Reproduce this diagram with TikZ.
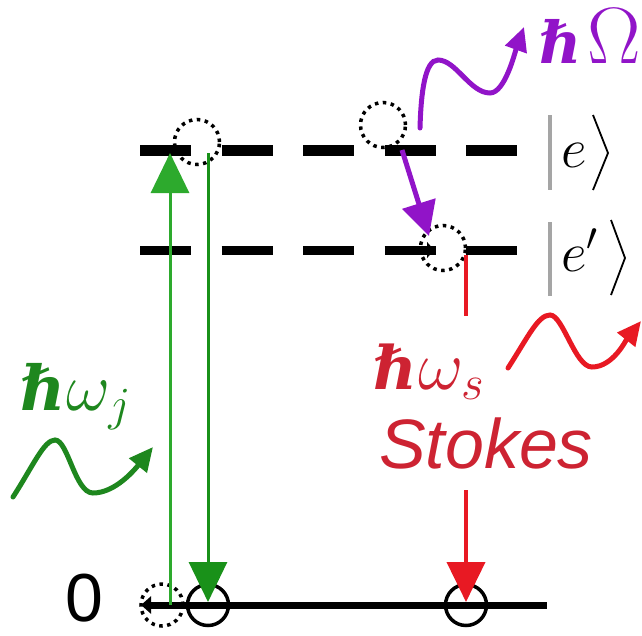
\RequirePackage{fix-cm}
\documentclass[tikz,border=0pt]{standalone}
\usepackage{fontspec}
\setmainfont{Liberation Sans}
\newfontfamily\hbfont{DejaVu Serif}
\usetikzlibrary{arrows.meta}
\definecolor{gA}{RGB}{45,170,45}
\definecolor{gB}{RGB}{25,145,25}
\definecolor{gT}{RGB}{30,135,30}
\definecolor{rA}{RGB}{232,25,35}
\definecolor{rT}{RGB}{205,35,50}
\definecolor{pA}{RGB}{145,20,200}
\definecolor{barg}{RGB}{165,165,165}
\newcommand{\hbsym}[1]{{\fontsize{#1}{#1}\selectfont\hbfont\bfseries\itshape ℏ}}
\begin{document}
\begin{tikzpicture}[x=1pt,y=-1pt,
  levelline/.style={line width=#1, dash pattern=on 51pt off 30.5pt},
  dotc/.style={circle, draw=black, line width=3.5pt, dash pattern=on 3.5pt off 4.5pt, minimum size=45pt, inner sep=0pt},
  solc/.style={circle, draw=black, line width=3.5pt, minimum size=41pt, inner sep=0pt},
  bighead/.style={-{Triangle[length=40pt,width=38pt]}},
  wave/.style={line width=5pt, line cap=round, -{Triangle[length=24pt,width=22pt]}},
  ketbar/.style={barg, line width=4pt},
  ketbr/.style={black, line width=1.8pt},
  lab/.style={inner sep=0pt, anchor=base west}
]
\useasboundingbox (0,0) rectangle (642,635);

% energy levels
\coordinate (eL) at (140,150);  \coordinate (eR) at (517,150);
\coordinate (pL) at (140,250);  \coordinate (pR) at (517,250);
\coordinate (gL) at (141,605);  \coordinate (gR) at (547,605);
\draw[levelline=11pt] (eL) -- (eR);
\draw[levelline=9pt] (pL) -- (pR);
\coordinate (pa1) at (418,250); \coordinate (pa2) at (434,250);
\draw[line width=9pt, -{Triangle[length=7pt,width=16pt]}] (pa1) -- (pa2);
\draw[line width=7pt, {Triangle[length=10pt,width=17pt]}-] (gL) -- (gR);

% electrons / holes
\node[dotc] (c1) at (197,142) {};
\node[dotc] (c2) at (383,125) {};
\node[dotc] (c3) at (443,248) {};
\node[dotc, minimum size=42pt] (g0) at (162,605) {};
\node[solc] (g1) at (208,605) {};
\node[solc] (g2) at (466,605) {};

% green excitation / de-excitation
\coordinate (u0) at (170,605); \coordinate (u1) at (170,153);
\draw[gA, line width=3pt, bighead] (u0) -- (u1);
\coordinate (d0) at (208,153); \coordinate (d1) at (208,602);
\draw[gB, line width=3pt, bighead] (d0) -- (d1);

% purple relaxation
\coordinate (m0) at (402,150); \coordinate (m1) at (429,236);
\draw[pA, line width=5pt, -{Triangle[length=34pt,width=34pt]}] (m0) -- (m1);

% red Stokes transition (interrupted by label)
\coordinate (s0) at (466,255); \coordinate (s1) at (466,316);
\coordinate (s2) at (466,490); \coordinate (s3) at (466,602);
\draw[rA, line width=4pt] (s0) -- (s1);
\draw[rA, line width=4pt, bighead] (s2) -- (s3);

% photons
\coordinate (w1a) at (13,497); \coordinate (w1b) at (55,440);
\coordinate (w1c) at (93,493); \coordinate (w1d) at (153,447);
\draw[gT, wave] (w1a) .. controls (33,466) and (44,440) .. (w1b)
  .. controls (68,440) and (75,493) .. (w1c)
  .. controls (116,493) and (136,468) .. (w1d);
\coordinate (w2a) at (508,368); \coordinate (w2b) at (550,315);
\coordinate (w2c) at (592,367); \coordinate (w2d) at (641,321);
\draw[rA, wave] (w2a) .. controls (528,337) and (538,315) .. (w2b)
  .. controls (563,315) and (575,367) .. (w2c)
  .. controls (613,367) and (626,340) .. (w2d);
\coordinate (w3a) at (420,128); \coordinate (w3b) at (438,60);
\coordinate (w3c) at (490,93); \coordinate (w3d) at (524,27);
\draw[pA, wave] (w3a) .. controls (421,92) and (425,60) .. (w3b)
  .. controls (456,60) and (470,93) .. (w3c)
  .. controls (505,93) and (515,52) .. (w3d);

% labels
\node[lab, text=pA] (tO) at (539,63) {\hbsym{58}\kern6pt{\fontsize{80}{86}\selectfont$\Omega$}};
\node[lab, text=gT] (tI) at (20,410) {\hbsym{62}\,{\fontsize{68}{76}\selectfont$\omega_j$}};
\node[lab, text=rT] (tS) at (373,389) {\hbsym{60}\,{\fontsize{70}{76}\selectfont$\omega_s$}};
\node[inner sep=0pt, anchor=base, text=rT, font=\itshape\fontsize{70}{80}\selectfont] (tSt) at (486,468) {Stokes};
\node[inner sep=0pt, anchor=base, font=\fontsize{68}{72}\selectfont] (t0) at (84,621) {0};

% kets
\coordinate (b1t) at (550,115); \coordinate (b1b) at (550,190);
\coordinate (b2t) at (550,222); \coordinate (b2b) at (550,296);
\draw[ketbar] (b1t) -- (b1b);
\draw[ketbar] (b2t) -- (b2b);
\node[lab, font=\fontsize{56}{62}\selectfont] (ke) at (561,167) {$e$};
\node[lab, font=\fontsize{56}{62}\selectfont] (kp) at (561,271) {$e'$};
\coordinate (r1a) at (593,115); \coordinate (r1b) at (608,153); \coordinate (r1c) at (593,190);
\coordinate (r2a) at (611,220); \coordinate (r2b) at (625,258); \coordinate (r2c) at (611,295);
\draw[ketbr] (r1a) -- (r1b) -- (r1c);
\draw[ketbr] (r2a) -- (r2b) -- (r2c);
\end{tikzpicture}
\end{document}
